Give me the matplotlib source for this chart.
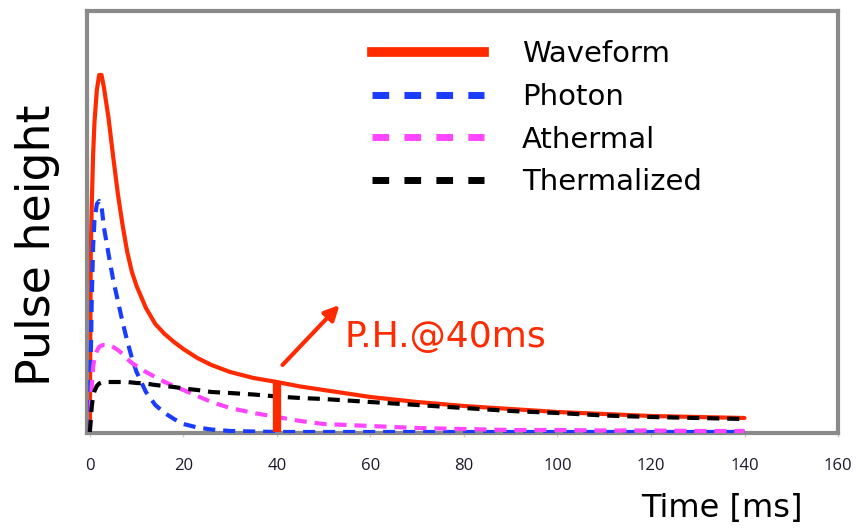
import matplotlib
matplotlib.use("Agg")
import matplotlib.pyplot as plt
from matplotlib.lines import Line2D

# Time axis [ms]
time_ms = [0, 0.2, 0.4, 0.7, 1, 1.5, 2, 2.5, 3, 4, 5, 6, 7, 8, 9, 10, 12, 14, 16,
           18, 20, 23, 26, 30, 35, 40, 45, 50, 60, 70, 80, 90, 100, 110, 120, 130, 140]

# Pulse components (arbitrary units)
waveform = [0, 180, 225, 277, 310, 342, 357, 357, 345, 314, 275, 238, 207, 180, 160,
            146, 124, 108, 98, 90, 83, 74, 67, 60, 54, 50, 45.5, 42, 35, 30, 26, 23,
            20, 18, 16, 15, 14]
photon = [0, 70, 130, 185, 212, 228, 231, 226, 205, 178, 152, 131, 110, 91, 74,
          60, 40, 27, 19, 13, 8, 4.5, 2.5, 1, 0.5, 0, 0, 0, 0, 0, 0, 0, 0, 0, 0, 0, 0]
athermal = [0, 25, 45, 65, 74, 81, 85, 86.5, 87, 87, 85, 82, 78, 73, 69, 66, 60, 55,
            50, 46, 42, 36, 30, 24, 19, 15, 11, 8, 6, 4, 3, 2, 2, 1.5, 1.5, 1, 1]
thermalized = [0, 12, 25, 36, 41, 46, 48.5, 49.5, 50, 50, 50, 50, 50, 50, 49.5, 49,
               48.5, 47, 46, 45, 43.5, 42, 40, 39, 37.5, 35.5, 34, 33, 30, 27, 24,
               21, 19, 16.5, 15, 14, 13]

labels = ["Waveform", "Photon", "Athermal", "Thermalized"]
x_ticks = [0, 20, 40, 60, 80, 100, 120, 140, 160]

# Pulse height marker
ph_time = 40
ph_value = 50

c_red = "#ff2a00"
c_blue = "#1a3cff"
c_mag = "#ff45ff"
c_blk = "#000000"

fig = plt.figure(figsize=(8.59, 5.32), dpi=100)
ax = fig.add_axes([0.1013, 0.1861, 0.8743, 0.7932])

dash = (0, (2.9, 1.9))
ax.plot(time_ms, photon, color=c_blue, lw=3, linestyle=dash, zorder=3)
ax.plot(time_ms, athermal, color=c_mag, lw=3, linestyle=dash, zorder=3)
ax.plot(time_ms, waveform, color=c_red, lw=3, solid_capstyle="round",
        solid_joinstyle="round", zorder=2)
ax.plot(time_ms, thermalized, color=c_blk, lw=3, linestyle=dash, zorder=4)

# Pulse height bar at 40 ms
ax.plot([ph_time, ph_time], [0, ph_value], color=c_red, lw=6, solid_capstyle="butt", zorder=5)
ax.annotate("", xy=(53.4, 127), xytext=(41.2, 67),
            arrowprops=dict(arrowstyle="-|>", color=c_red, lw=3,
                            mutation_scale=22, shrinkA=0, shrinkB=0))
ax.text(54.5, 95, "P.H.@40ms", color=c_red, fontsize=26, va="center", ha="left",
        family="DejaVu Sans")

ax.set_xlim(-0.6, 160)
ax.set_ylim(-1, 421)
ax.set_yticks([])
ax.set_xticks(x_ticks)
ax.set_xticklabels([str(v) for v in x_ticks], family="Open Sans", fontsize=12,
                   color="#1a1a2a")
ax.tick_params(axis="x", length=3, width=1, color="#cccccc", pad=15, direction="out")

for s in ax.spines.values():
    s.set_color("#8a8a8a")
    s.set_linewidth(3)

# Legend with thicker proxy lines
handles = [
    Line2D([], [], color=c_red, lw=7),
    Line2D([], [], color=c_blue, lw=5, linestyle=(0, (2.4, 2.2))),
    Line2D([], [], color=c_mag, lw=5, linestyle=(0, (2.4, 2.2))),
    Line2D([], [], color=c_blk, lw=5, linestyle=(0, (2.4, 2.2))),
]
leg = ax.legend(handles, labels, loc="upper left", bbox_to_anchor=(0.364, 0.958),
                frameon=False, fontsize=21, handlelength=3.85, handletextpad=1.3,
                labelspacing=0.5, borderaxespad=0)
for t in leg.get_texts():
    t.set_family("DejaVu Sans")

fig.text(38 / 859, 1 - 245 / 532, "Pulse height", rotation=90, fontsize=33,
         ha="center", va="center", family="DejaVu Sans")
fig.text(722 / 859, 1 - 508 / 532, "Time [ms]", fontsize=23, ha="center",
         va="center", family="DejaVu Sans")

fig.savefig("out.png", dpi=100)
